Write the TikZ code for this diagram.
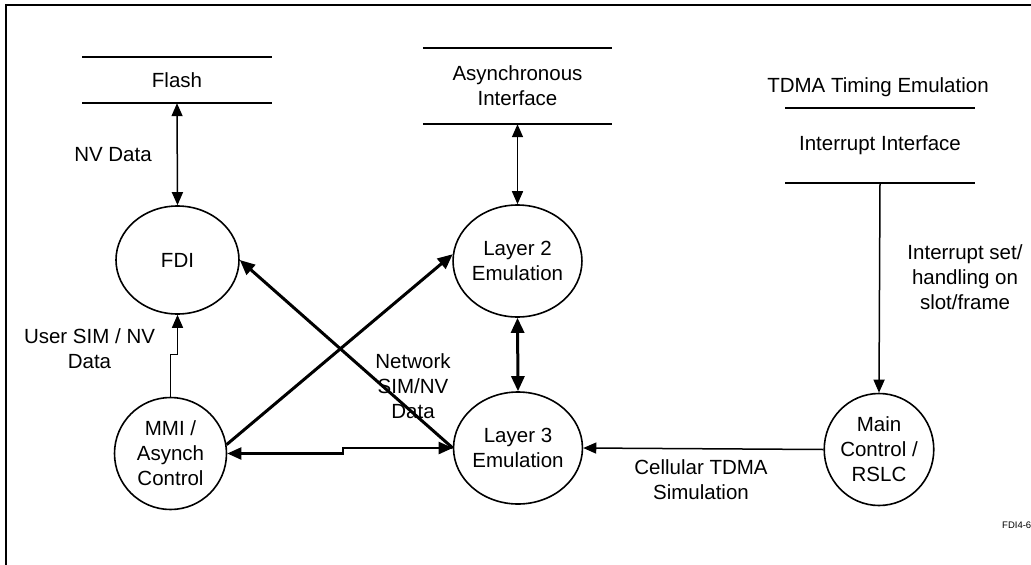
\documentclass[tikz,border=0pt]{standalone}
\usepackage{fontspec}
\setmainfont{Liberation Sans}
\usetikzlibrary{shapes.geometric,arrows.meta,calc}

\begin{document}
\begin{tikzpicture}[x=1pt,y=-1pt,
  font=\fontsize{20.5}{25}\selectfont,
  proc/.style={ellipse,draw,line width=1.6pt,inner sep=0pt,align=center,
    minimum width=#1,minimum height=112pt},
  proc/.default=118pt,
  storebox/.style={inner sep=0pt,align=center,minimum width=189pt},
  storeline/.style={line width=2.4pt},
  thinflow/.style={line width=1.5pt,-{Triangle[length=13pt,width=11pt]}},
  thinboth/.style={line width=1.5pt,{Triangle[length=13pt,width=11pt]}-{Triangle[length=13pt,width=11pt]}},
  midboth/.style={line width=2.2pt,{Triangle[length=14pt,width=12pt]}-{Triangle[length=14pt,width=12pt]}},
  thickflow/.style={line width=3pt,-{Triangle[length=15pt,width=13pt]}},
  thickboth/.style={line width=3pt,{Triangle[length=15pt,width=13pt]}-{Triangle[length=15pt,width=13pt]}},
  lbl/.style={align=center,inner sep=0pt}
]
\useasboundingbox (0,0) rectangle (1031,565);

% outer frame (only top and left edges fall inside the page)
\draw[line width=2.4pt] (6,566) -- (6,5) -- (1032,5);

% data stores
\node[storebox,minimum height=46pt] (flash) at (177,80) {Flash};
\draw[storeline] (flash.north west) -- (flash.north east);
\draw[storeline] (flash.south west) -- (flash.south east);

\node[storebox,minimum height=76pt] (async) at (517.5,86) {Asynchronous\\Interface};
\draw[storeline] (async.north west) -- (async.north east);
\draw[storeline] (async.south west) -- (async.south east);

\node[lbl] (tdma) at (878,87) {TDMA Timing Emulation};
\node[storebox,minimum height=75pt] (intr) at (880,145.5) {Interrupt Interface};
\draw[storeline] (intr.north west) -- (intr.north east);
\draw[storeline] (intr.south west) -- (intr.south east);

% processes
\node[proc=123pt,minimum height=108pt] (fdi) at (177.5,260) {FDI};
\node[proc=119pt] (l2) at (517.5,261) {Layer 2\\Emulation};
\node[proc=120pt] (l3) at (518,448) {Layer 3\\Emulation};
\node[proc=112pt] (mmi) at (170.5,453.5) {MMI /\\Asynch\\Control};
\node[proc=108pt] (mc) at (879,449.5) {Main\\Control /\\RSLC};

% flows
\draw[thinboth] (flash.south) -- (fdi.north);
\draw[thinboth] (async.south) -- (l2.north);
\draw[thinflow] (intr.south) -- (mc.north);
\draw[thinflow] (mc.west) -- (l3.east);
\draw[thickboth] (l3.north) -- (l2.south);
\draw[thinflow] (mmi.north) -- ++(0,-42) -| (fdi.south);
\draw[midboth] (mmi.east) -- ++(116,0) |- (l3.west);
\draw[thickflow] (mmi.9) -- (l2.174);
\draw[thickflow] (l3.west) -- (fdi.east);

% flow labels
\node[lbl] (nvdata) at (113,155) {NV Data};
\node[lbl] (usersim) at (89.5,348.5) {User SIM / NV\\Data};
\node[lbl] (netsim) at (413,386.5) {Network\\SIM/NV\\Data};
\node[lbl] (irqset) at (965,277.5) {Interrupt set/\\handling on\\slot/frame};
\node[lbl] (celltdma) at (701,479.5) {Cellular TDMA\\Simulation};

\node[anchor=west,inner sep=0pt,font=\fontsize{9.5}{11}\selectfont] (figid) at (1002,525) {FDI4-6};
\end{tikzpicture}
\end{document}
